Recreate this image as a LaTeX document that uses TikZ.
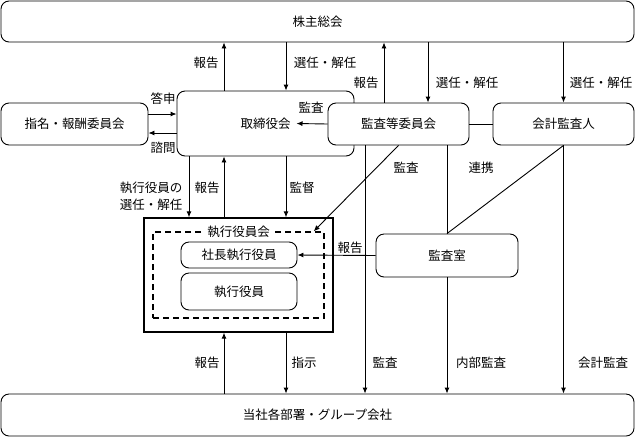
\documentclass[tikz,border=0pt]{standalone}
\usepackage{fontspec}
\setmainfont{Noto Sans CJK JP}
\usetikzlibrary{arrows.meta}
\tikzset{
  box/.style={draw,rounded corners=8pt,fill=white,line width=0.9pt,inner sep=0pt},
  arr/.style={line width=0.9pt,-{Latex[length=6pt,width=5pt]}},
  ln/.style={line width=0.9pt},
  lbl/.style={inner sep=1pt},
}
\newcommand{\setup}{
    \coordinate (v0) at (189,0);
    \coordinate (v1) at (224,0);
    \coordinate (v2) at (286,0);
    \coordinate (v3) at (365,0);
    \coordinate (v4) at (384,0);
    \coordinate (v5) at (428,0);

    \coordinate (h0) at (0,114);
    \coordinate (h1) at (0,133);
}
\begin{document}
\begin{tikzpicture}[x=1pt,y=-1pt,font=\fontsize{12.5}{15}\selectfont]
          \useasboundingbox (0,0) rectangle (636,437);
          \setup;

          % boxes
          \node[box,minimum width=633pt,minimum height=41pt] (soukai) at (317.5,21.5) {株主総会};
          \node[box,minimum width=147pt,minimum height=42pt] (shimei) at (74.5,124) {指名・報酬委員会};
          \node[box,minimum width=177pt,minimum height=65pt] (torishimari) at (265.5,123.5) {取締役会};
          \node[box,minimum width=141pt,minimum height=42pt] (kansatou) at (398.5,124) {監査等委員会};
          \node[box,minimum width=141pt,minimum height=42pt] (kaikei) at (563.5,124) {会計監査人};
          \node[draw,line width=1.3pt,minimum width=189pt,minimum height=114pt] (shikkou) at (238.5,275) {};
          \node[draw,dashed,dash pattern=on 6pt off 4pt,line width=1.3pt,minimum width=171pt,minimum height=86pt] (dbox) at (238.5,275) {};
          \node[fill=white,inner sep=2pt] (dlabel) at (dbox.north) {執行役員会};
          \node[box,minimum width=116pt,minimum height=26pt] (shacho) at (239,255) {社長執行役員};
          \node[box,minimum width=116pt,minimum height=37pt] (shikkouin) at (239,291.5) {執行役員};
          \node[box,minimum width=142pt,minimum height=43pt] (kansashitsu) at (447,255.5) {監査室};
          \node[box,minimum width=633pt,minimum height=42pt] (bumon) at (317.5,415) {当社各部署・グループ会社};

          % connectors
          \draw[arr] (torishimari.north -| v1) -- (soukai.south -| v1);
          \draw[arr] (soukai.south -| v2) -- (torishimari.north -| v2);
          \draw[arr] (kansatou.north -| v4) -- (soukai.south -| v4);
          \draw[arr] (soukai.south -| v5) -- (kansatou.north -| v5);
          \draw[arr] (soukai.south -| kaikei) -- (kaikei.north);
          \draw[arr] (shimei.east |- h0) -- (torishimari.west |- h0);
          \draw[arr] (torishimari.west |- h1) -- (shimei.east |- h1);
          \draw[arr] (kansatou.west) -- ([xshift=31pt]torishimari.center);
          \draw[ln] (kansatou) -- (kaikei);

          \draw[arr] (torishimari.south -| v0) -- (shikkou.north -| v0);
          \draw[arr] (shikkou.north -| v1) -- (torishimari.south -| v1);
          \draw[arr] (torishimari.south -| v2) -- (shikkou.north -| v2);
          \draw[arr] (kansatou.south) -- ([xshift=-11pt]dbox.north east);
          \draw[arr] (kansatou.south -| v3) -- (bumon.north -| v3);
          \draw[ln] (kansatou.south -| kansashitsu) -- (kansashitsu.north);
          \draw[ln] (kaikei.south) -- (kansashitsu.north);
          \draw[arr] (kansashitsu.south) -- (bumon.north -| kansashitsu);
          \draw[arr] (kaikei.south) -- (bumon.north -| kaikei);
          \draw[arr] (kansashitsu.west) -- (shacho.east);
          \draw[arr] (bumon.north -| v1) -- (shikkou.south -| v1);
          \draw[arr] (shikkou.south -| v2) -- (bumon.north -| v2);

          % labels
          \node[lbl] (l0) at (206,63) {報告};
          \node[lbl] (l1) at (325,63) {選任・解任};
          \node[lbl] (l2) at (366,83) {報告};
          \node[lbl] (l3) at (467,83) {選任・解任};
          \node[lbl] (l4) at (601,83) {選任・解任};
          \node[lbl] (l5) at (163,99) {答申};
          \node[lbl] (l6) at (163,148) {諮問};
          \node[lbl] (l7) at (311,108) {監査};
          \node[lbl] (l8) at (151,188) {執行役員の};
          \node[lbl] (l9) at (151,205) {選任・解任};
          \node[lbl] (l10) at (207,188) {報告};
          \node[lbl] (l11) at (302,188) {監督};
          \node[lbl] (l12) at (406,168) {監査};
          \node[lbl] (l13) at (481,168) {連携};
          \node[lbl] (l14) at (350,248) {報告};
          \node[lbl] (l15) at (207,363) {報告};
          \node[lbl] (l16) at (304,363) {指示};
          \node[lbl] (l17) at (385,363) {監査};
          \node[lbl] (l18) at (481,363) {内部監査};
          \node[lbl] (l19) at (603,363) {会計監査};
        \end{tikzpicture}
\end{document}
